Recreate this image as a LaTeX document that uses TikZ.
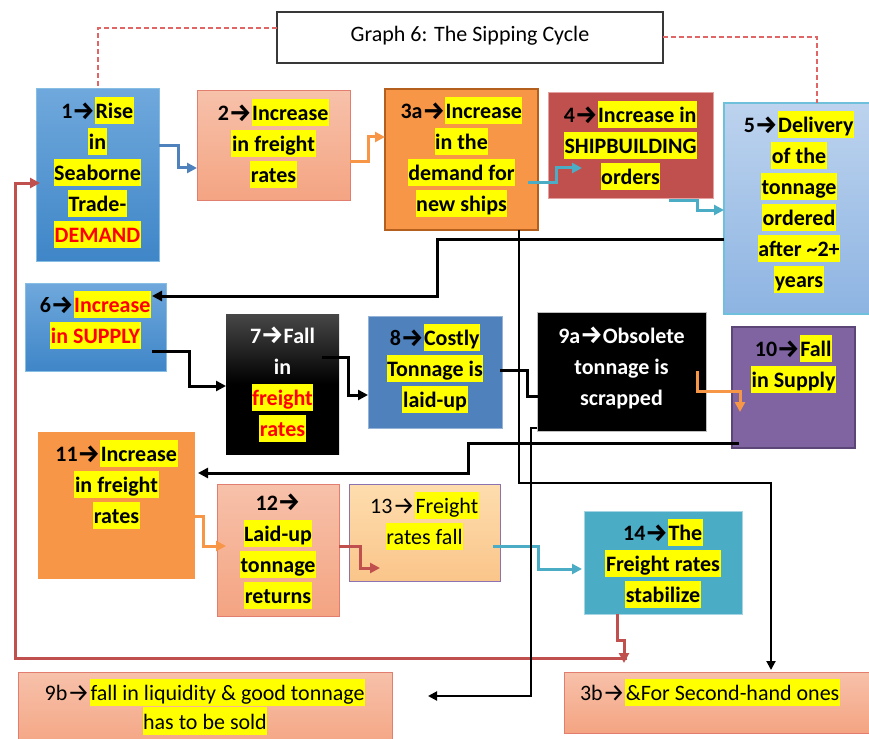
\documentclass[tikz,border=0pt]{standalone}
\usepackage{fontspec}
\setmainfont{Carlito}
\newfontfamily\arrowfont{Fira Sans}
\usetikzlibrary{arrows.meta,calc}

\definecolor{hly}{HTML}{FFFF00}
\definecolor{txtred}{HTML}{FF0000}
\definecolor{blueT}{HTML}{6FA8DC}
\definecolor{blueB}{HTML}{3F86C8}
\definecolor{blueE}{HTML}{86BDE3}
\definecolor{salT}{HTML}{F7C1AA}
\definecolor{salB}{HTML}{F4A482}
\definecolor{salE}{HTML}{E27E70}
\definecolor{orng}{HTML}{F79646}
\definecolor{orngE}{HTML}{B45F1E}
\definecolor{brick}{HTML}{C0504D}
\definecolor{brickE}{HTML}{E3A19F}
\definecolor{lbT}{HTML}{BDD3EE}
\definecolor{lbB}{HTML}{8DB4E2}
\definecolor{lbE}{HTML}{6FC0DA}
\definecolor{purp}{HTML}{8064A2}
\definecolor{purpE}{HTML}{5B4677}
\definecolor{steel}{HTML}{4F81BD}
\definecolor{steelE}{HTML}{95B3D7}
\definecolor{peachT}{HTML}{FEDDAE}
\definecolor{peachB}{HTML}{FAC58A}
\definecolor{peachE}{HTML}{8C72B0}
\definecolor{teal}{HTML}{4BACC6}
\definecolor{tealE}{HTML}{A5D5E2}
\definecolor{cblue}{HTML}{4F81BD}
\definecolor{corange}{HTML}{F79646}
\definecolor{ccyan}{HTML}{4BACC6}
\definecolor{cred}{HTML}{C0504D}
\definecolor{cdash}{HTML}{E06666}

% yellow text marker and the step arrow glyph
\newcommand\hl[1]{{\setlength{\fboxsep}{0.6pt}\colorbox{hly}{\rule[-5pt]{0pt}{26pt}#1}}}
\newcommand\ar{\rule[-5pt]{0pt}{26pt}\raisebox{-0.5pt}{\fontsize{25}{31}\selectfont\arrowfont →}}
\newcommand\rd[1]{\textcolor{txtred}{#1}}

\begin{document}
\begin{tikzpicture}[x=1pt,y=-1pt,
  box/.style={anchor=north west, inner sep=0pt, outer sep=0pt},
  txt/.style={anchor=north, inner sep=0pt, align=center,
    font=\fontsize{22}{31}\selectfont\bfseries},
  rtxt/.style={anchor=north, inner sep=0pt, align=center,
    font=\fontsize{22}{31}\selectfont},
  conn/.style={line width=3pt, draw=black, -{Triangle[length=10pt,width=10pt]}},
  thinconn/.style={line width=2pt, draw=black, -{Triangle[length=9pt,width=9pt]}},
  guide/.style={dash pattern=on 5pt off 3pt, line width=1.3pt, draw=cdash},
]
\useasboundingbox (0,0) rectangle (869,738);

% ---------- boxes ----------
\node[box, draw=black!78, line width=1.5pt, fill=white,
  minimum width=386pt, minimum height=51pt] (title) at (277,12) {};
\node[box, top color=blueT, bottom color=blueB, draw=blueE, line width=1pt,
  minimum width=123pt, minimum height=172pt] (b1) at (36,89) {};
\node[box, top color=salT, bottom color=salB, draw=salE, line width=1pt,
  minimum width=153pt, minimum height=109pt] (b2) at (197,91) {};
\node[box, fill=orng, draw=orngE, line width=2pt,
  minimum width=153pt, minimum height=141pt] (b3a) at (385,89) {};
\node[box, fill=brick, draw=brickE, line width=1pt,
  minimum width=165pt, minimum height=105pt] (b4) at (548,93) {};
\node[box, top color=lbT, bottom color=lbB, draw=lbE, line width=1.2pt,
  minimum width=150pt, minimum height=211pt] (b5) at (724,103) {};
\node[box, top color=blueT, bottom color=blueB, draw=blueE, line width=1pt,
  minimum width=141pt, minimum height=88pt] (b6) at (25,283) {};
\node[box, top color=black!72, bottom color=black, middle color=black,
  minimum width=113pt, minimum height=140pt] (b7) at (226,314) {};
\node[box, fill=steel, draw=steelE, line width=0.8pt,
  minimum width=134pt, minimum height=112pt] (b8) at (368,316) {};
\node[box, fill=black, draw=black!25, line width=0.8pt,
  minimum width=169pt, minimum height=119pt] (b9a) at (537,312) {};
\node[box, fill=purp, draw=purpE, line width=2pt,
  minimum width=123pt, minimum height=121pt] (b10) at (732,327) {};
\node[box, fill=orng,
  minimum width=157pt, minimum height=147pt] (b11) at (38,432) {};
\node[box, top color=salT, bottom color=salB, draw=salE, line width=1pt,
  minimum width=122pt, minimum height=132pt] (b12) at (217,484) {};
\node[box, top color=peachT, bottom color=peachB, draw=peachE, line width=1pt,
  minimum width=151pt, minimum height=97pt] (b13) at (349,484) {};
\node[box, fill=teal, draw=tealE, line width=1pt,
  minimum width=158pt, minimum height=103pt] (b14) at (584,511) {};
\node[box, top color=salT, bottom color=salB, draw=salE, line width=1pt,
  minimum width=374pt, minimum height=78pt] (b9b) at (18,672) {};
\node[box, top color=salT, bottom color=salB, draw=salE, line width=1pt,
  minimum width=316pt, minimum height=61pt] (b3b) at (564,672) {};

% ---------- dashed guides from the title ----------
\draw[guide] (title.west |- 0,28) -- (98,28) -- (b1.north -| 98,0);
\draw[guide] (title.east |- 0,37) -- (817,37) -- (b5.north -| 817,0);

% ---------- connectors ----------
\draw[conn, draw=cblue] (b1.east |- 0,146) -- (178,146) -- (178,168) -- (b2.west |- 0,168);
\draw[conn, draw=corange] (b2.east |- 0,162) -- (368,162) -- (368,137) -- (b3a.west |- 0,137);
\draw[conn, draw=ccyan] ($(b3a.east |- 0,182)+(-10,0)$) -- (556,182) -- (556,168)
  -- ($(b4.west |- 0,168)+(34,0)$);
\draw[conn, draw=ccyan] ($(b4.south east)+(-44,2)$) -- (697,200) -- (697,210) -- (b5.west |- 0,210);
\draw[conn] (b5.west |- 0,239) -- (437,239) -- (437,296) -- ($(b6.east |- 0,296)+(-14,0)$);
\draw[conn] ($(b6.east |- 0,351)+(-14,0)$) -- (189,351) -- (189,386) -- (b7.west |- 0,386);
\draw[conn] ($(b7.east |- 0,357)+(-17,0)$) -- (348,357) -- (348,395) -- (b8.west |- 0,395);
\draw[conn] ($(b8.east |- 0,370)+(-2,0)$) -- (527,370) -- (527,396) -- ($(b9a.west |- 0,396)+(12,0)$);
\draw[conn, draw=corange] ($(b9a.east |- 0,371)+(-9,0)$) -- (697,391) -- (740,391)
  -- ($(b10.west |- 0,412)+(8,0)$);
\draw[conn] ($(b10.west |- 0,443)+(7,0)$) -- (468,443) -- (468,473) -- ($(b11.east |- 0,473)+(3,0)$);
\draw[conn, draw=corange] (b11.east |- 0,516) -- (203,516) -- (203,546) -- ($(b12.west |- 0,546)+(9,0)$);
\draw[conn, draw=cred] (b12.east |- 0,546) -- (360,546) -- (360,568) -- ($(b13.west |- 0,568)+(31,0)$);
\draw[conn, draw=ccyan] ($(b13.east |- 0,546)+(-7,0)$) -- (538,546) -- (538,569)
  -- ($(b14.west |- 0,569)+(-2,0)$);
\coordinate (loopstart) at (627,658);
\draw[conn, draw=cred] (loopstart) -- (15,658) -- (15,183) -- ($(b1.west |- 0,183)+(4,0)$);
\draw[conn, draw=cred] (b14.south -| 617,0) -- (617,640) -- (624,640) -- ($(b3b.north -| 624,0)+(0,-9)$);
\draw[thinconn] (b3a.south -| 519,0) -- (519,483) -- (771,483) -- ($(b3b.north -| 771,0)+(0,-2)$);
\draw[thinconn] (b9a.west |- 0,428) -- (531,428) -- (531,696) -- ($(b9b.east |- 0,696)+(36,0)$);

% ---------- texts ----------
\node[rtxt, anchor=center] (ttitle) at ([yshift=2pt]title.center) {Graph 6: The Sipping Cycle};
\node[txt] (t1) at ([yshift=-8pt]b1.north)
  {1\ar\hl{Rise}\\\hl{in}\\\hl{Seaborne}\\\hl{Trade-}\\\hl{\rd{DEMAND}}};
\node[txt] (t2) at ([yshift=-8pt]b2.north)
  {2\ar\hl{Increase}\\\hl{in freight}\\\hl{rates}};
\node[txt] (t3a) at ([yshift=-8pt]b3a.north)
  {3a\ar\hl{Increase}\\\hl{in the}\\\hl{demand for}\\\hl{new ships}};
\node[txt] (t4) at ([yshift=-8pt]b4.north)
  {4\ar\hl{Increase in}\\\hl{SHIPBUILDING}\\\hl{orders}};
\node[txt] (t5) at ([yshift=-8pt]b5.north)
  {5\ar\hl{Delivery}\\\hl{of the}\\\hl{tonnage}\\\hl{ordered}\\\hl{after \textasciitilde2+}\\\hl{years}};
\node[txt] (t6) at ([yshift=-8pt]b6.north)
  {6\ar\hl{\rd{Increase}}\\\hl{\rd{in SUPPLY}}};
\node[txt, text=white] (t7) at ([yshift=-8pt]b7.north)
  {7\ar Fall\\in\\\hl{\rd{freight}}\\\hl{\rd{rates}}};
\node[txt] (t8) at ([yshift=-8pt]b8.north)
  {8\ar\hl{Costly}\\\hl{Tonnage is}\\\hl{laid-up}};
\node[txt, text=white] (t9a) at ([yshift=-10pt]b9a.north)
  {9a\ar Obsolete\\tonnage is\\scrapped};
\node[txt] (t10) at ([yshift=-8pt]b10.north)
  {10\ar\hl{Fall}\\\hl{in Supply}};
\node[txt] (t11) at ([yshift=-8pt]b11.north)
  {11\ar\hl{Increase}\\\hl{in freight}\\\hl{rates}};
\node[txt] (t12) at ([yshift=-5pt]b12.north)
  {12\ar\\\hl{Laid-up}\\\hl{tonnage}\\\hl{returns}};
\node[rtxt] (t13) at ([yshift=-8pt]b13.north)
  {13\ar\hl{Freight}\\\hl{rates fall}};
\node[txt] (t14) at ([yshift=-8pt]b14.north)
  {14\ar\hl{The}\\\hl{Freight rates}\\\hl{stabilize}};
\node[rtxt, font=\fontsize{22}{27}\selectfont] (t9b) at ([yshift=-7pt]b9b.north)
  {9b\ar\hl{fall in liquidity \& good tonnage}\\\hl{has to be sold}};
\node[rtxt] (t3b) at ([xshift=-12pt,yshift=-7pt]b3b.north)
  {3b\ar\hl{\&For Second-hand ones}};
\end{tikzpicture}
\end{document}
